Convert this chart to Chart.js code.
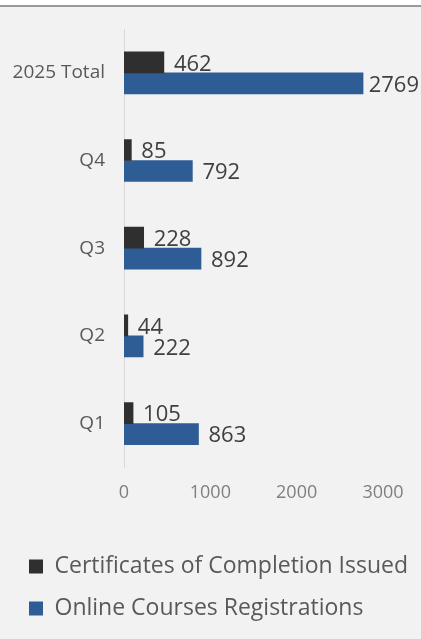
<!DOCTYPE html>
<html>
<head>
<meta charset="utf-8">
<script src="https://cdn.jsdelivr.net/npm/chart.js@4"></script>
<style>
  html, body { margin: 0; padding: 0; background: #ffffff; }
  #frame {
    position: absolute; left: 0; top: 5px;
    width: 421px; height: 632px;
    border-top: 2px solid #999999;
    background: #f2f2f2;
  }
  canvas { display: block; }
</style>
</head>
<body>
<div id="frame"><canvas id="chart" width="421" height="632"></canvas></div>
<script>
// Quarterly categories, listed top to bottom
const categories = ['2025 Total', 'Q4', 'Q3', 'Q2', 'Q1'];
const certificates = [462, 85, 228, 44, 105];
const registrations = [2769, 792, 892, 222, 863];
const seriesNames = ['Certificates of Completion Issued', 'Online Courses Registrations'];
const xTicks = [0, 1000, 2000, 3000];

const FONT = "'Open Sans', 'Noto Sans', sans-serif";

// Writes each bar's value just past the end of the bar
const valueLabels = {
  id: 'valueLabels',
  afterDatasetsDraw(chart) {
    const ctx = chart.ctx;
    ctx.save();
    ctx.font = '22px ' + FONT;
    ctx.fillStyle = '#404040';
    ctx.textBaseline = 'middle';
    ctx.textAlign = 'left';
    chart.data.datasets.forEach((ds, di) => {
      const meta = chart.getDatasetMeta(di);
      meta.data.forEach((bar, i) => {
        const text = String(ds.data[i]);
        const w = ctx.measureText(text).width;
        let x = bar.x + 10;
        if (x + w > chart.width - 2) x = chart.width - 2 - w;
        ctx.fillText(text, x, bar.y + 2);
      });
    });
    ctx.restore();
  }
};

// Lets the bottom legend use the full canvas width instead of the plot width
const wideLegend = {
  id: 'wideLegend',
  afterLayout(chart) {
    const lg = chart.legend;
    if (lg) {
      lg.right = chart.width;
      lg.width = lg.right - lg.left;
    }
  }
};

new Chart(document.getElementById('chart'), {
  type: 'bar',
  data: {
    labels: categories,
    datasets: [
      { label: seriesNames[0], data: certificates, backgroundColor: '#2f2f2f', barThickness: 21 },
      { label: seriesNames[1], data: registrations, backgroundColor: '#2e5d95', barThickness: 21 }
    ]
  },
  options: {
    indexAxis: 'y',
    responsive: false,
    animation: false,
    layout: { padding: { left: 10, right: 38, top: 22, bottom: 9 } },
    scales: {
      x: {
        min: 0, max: 3000,
        afterBuildTicks(scale) { scale.ticks = xTicks.map(v => ({ value: v })); },
        afterFit(scale) { scale.height += 17; },
        grid: { display: false, drawTicks: false },
        border: { display: false },
        ticks: {
          color: '#7f7f7f', font: { family: FONT, size: 18 }, padding: 15, maxRotation: 0,
          callback: v => String(v)
        }
      },
      y: {
        grid: { display: false, drawTicks: false },
        border: { display: true, color: '#d9d9d9', width: 1 },
        afterFit(scale) {
          scale.width = 114;
          scale.paddingTop = 0;
          scale.paddingBottom = 0;
        },
        ticks: { color: '#595959', font: { family: FONT, size: 19 }, padding: 19 }
      }
    },
    plugins: {
      legend: {
        position: 'bottom',
        align: 'start',
        labels: {
          color: '#595959',
          font: { family: FONT, size: 23 },
          boxWidth: 14, boxHeight: 14,
          padding: 19
        }
      },
      tooltip: { enabled: false }
    }
  },
  plugins: [valueLabels, wideLegend]
});
</script>
</body>
</html>
